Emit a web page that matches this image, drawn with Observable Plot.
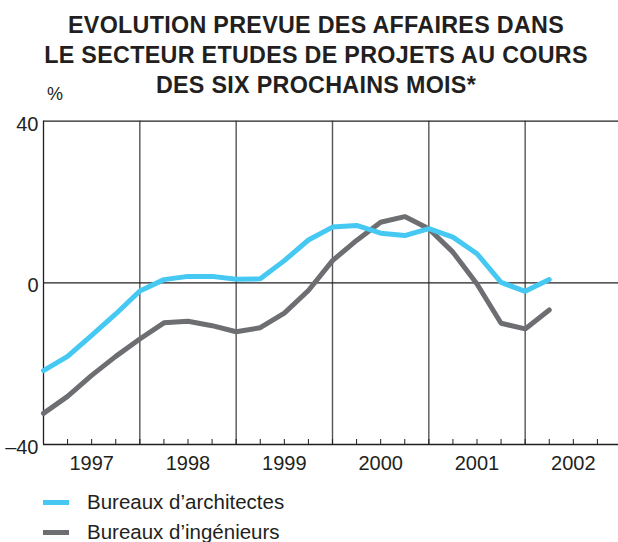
<!DOCTYPE html>
<html><head><meta charset="utf-8">
<script src="https://cdn.jsdelivr.net/npm/d3@7"></script>
<script src="https://cdn.jsdelivr.net/npm/@observablehq/plot@0.6"></script>
<style>
body{margin:0;background:#fff;font-family:"Liberation Sans",Arial,sans-serif;color:#231f20;}
#wrap{position:relative;width:618px;height:542px;overflow:hidden;}
#title{position:absolute;left:0;top:10px;width:632px;text-align:center;font-weight:bold;font-size:23.3px;line-height:30px;letter-spacing:0.3px;}
#pct{position:absolute;left:47px;top:84px;font-size:18px;}
#chart{position:absolute;left:0;top:96px;}
.leg{position:absolute;left:43px;font-size:20.5px;line-height:24px;display:flex;align-items:center;}
.leg span.sw{display:inline-block;width:26px;height:5px;margin-right:18px;}
</style></head>
<body><div id="wrap">
<div id="title">EVOLUTION PREVUE DES AFFAIRES DANS<br>LE SECTEUR ETUDES DE PROJETS AU COURS<br>DES SIX PROCHAINS MOIS*</div>
<div id="pct">%</div>
<div id="chart"></div>
<div class="leg" style="top:490px"><span class="sw" style="background:#45c8f2"></span>Bureaux d’architectes</div>
<div class="leg" style="top:520px"><span class="sw" style="background:#6d6e71"></span>Bureaux d’ingénieurs</div>
</div>
<script>
const quarters = d3.range(22).map(i => 1997 + i / 4);
const architectes = [-21.7,-18.2,-13.0,-7.7,-2.0,0.8,1.6,1.6,0.9,1.0,5.5,10.6,13.8,14.2,12.3,11.7,13.4,11.3,7.2,0.1,-2.1,0.8];
const ingenieurs = [-32.3,-28.1,-22.9,-18.2,-13.9,-9.9,-9.5,-10.6,-12.1,-11.1,-7.5,-1.9,5.5,10.5,15.0,16.4,13.4,7.6,-0.3,-10.0,-11.4,-6.7];
const yearTicks = [1997,1998,1999,2000,2001,2002];
const yTicks = [-40,0,40];
const quarterTicks = d3.range(24).map(i => 1997 + i / 4);
const yearLines = [1998,1999,2000,2001,2002];

const seriesA = quarters.map((x,i)=>({x,y:architectes[i]}));
const seriesI = quarters.map((x,i)=>({x,y:ingenieurs[i]}));

const chart = Plot.plot({
  width: 618, height: 380,
  marginLeft: 43, marginRight: -3, marginTop: 24.7, marginBottom: 32,
  style: {fontFamily: '"Liberation Sans",Arial,sans-serif', color: "#231f20", background: "transparent"},
  x: {domain: [1997, 2003]},
  y: {domain: [-40, 40]},
  marks: [
    Plot.ruleX(yearLines, {stroke: "#555", strokeWidth: 1.4}),
    Plot.ruleX([1997], {stroke: "#231f20", strokeWidth: 1.3}),
    Plot.ruleY(yTicks, {stroke: "#231f20", strokeWidth: 1.3}),
    Plot.axisX({ticks: quarterTicks, tickSize: -5, tickFormat: () => "", stroke: "#231f20", label: null}),
    Plot.axisX({ticks: yearTicks.map(d => d + 0.5), tickSize: 0, tickPadding: 11, fontSize: 20, tickFormat: d => String(Math.floor(d)), label: null}),
    Plot.axisY({ticks: yTicks, tickSize: 0, tickPadding: 5, fontSize: 20, dy: 3, tickFormat: d => d < 0 ? "\u2013" + Math.abs(d) : String(d), label: null}),
    Plot.line(seriesI, {x: "x", y: "y", stroke: "#6d6e71", strokeWidth: 5, strokeLinejoin: "miter"}),
    Plot.line(seriesA, {x: "x", y: "y", stroke: "#45c8f2", strokeWidth: 5, strokeLinejoin: "miter"})
  ]
});
document.getElementById("chart").appendChild(chart);
</script>
</body></html>
